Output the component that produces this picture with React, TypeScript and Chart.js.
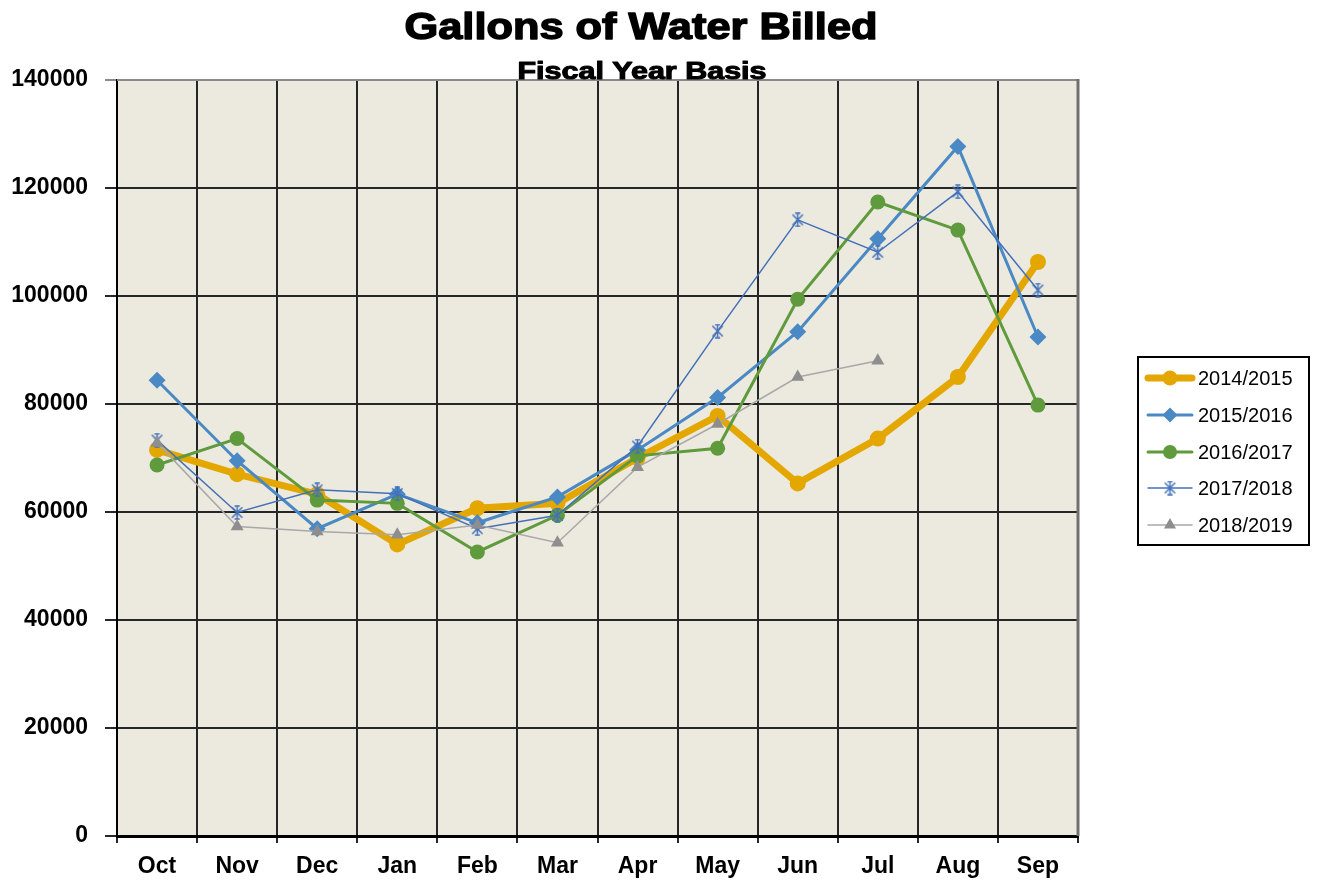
import React, { useEffect, useRef } from 'react';
import { Chart, registerables } from 'chart.js';

Chart.register(...registerables);

const months = ['Oct', 'Nov', 'Dec', 'Jan', 'Feb', 'Mar', 'Apr', 'May', 'Jun', 'Jul', 'Aug', 'Sep'];
const seriesNames = ['2014/2015', '2015/2016', '2016/2017', '2017/2018', '2018/2019'];
const fy2014 = [71500, 67000, 63300, 54000, 60700, 61600, 70000, 77800, 65300, 73600, 85000, 106300];
const fy2015 = [84400, 69500, 56900, 63300, 58000, 62800, 71500, 81200, 93400, 110600, 127700, 92400];
const fy2016 = [68700, 73600, 62200, 61600, 52600, 59400, 70400, 71800, 99400, 117400, 112200, 79800];
const fy2017 = [73300, 59900, 64100, 63400, 56900, 59400, 72200, 93500, 114100, 108100, 119300, 101100];
const fy2018 = [72800, 57300, 56400, 55800, 57600, 54300, 68300, 76300, 85000, 88000, null, null];
const yMin = 0;
const yMax = 140000;
const yStep = 20000;

const titleText = 'Gallons of Water Billed';
const subtitleText = 'Fiscal Year Basis';

const FONT = "'Liberation Sans', Arial, sans-serif";

const C_ORANGE = '#E4A700';
const C_BLUE = '#4A89C4';
const C_GREEN = '#5F9A3C';
const C_STAR = '#4470BA';
const C_GRAY_LINE = '#A8A8A8';
const C_GRAY_PT = '#8E8E8E';

function makeStar(color: string, size = 15, lw = 1.5) {
  const c = document.createElement('canvas');
  c.width = size;
  c.height = size;
  const g = c.getContext('2d')!;
  g.strokeStyle = color;
  g.lineWidth = lw;
  const m = size / 2;
  const r = size / 2 - 1;
  g.beginPath();
  g.moveTo(m - r * 0.8, m - r * 0.8);
  g.lineTo(m + r * 0.8, m + r * 0.8);
  g.moveTo(m + r * 0.8, m - r * 0.8);
  g.lineTo(m - r * 0.8, m + r * 0.8);
  g.moveTo(m, m - r);
  g.lineTo(m, m + r);
  g.moveTo(m - r * 0.4, m - r);
  g.lineTo(m + r * 0.4, m - r);
  g.moveTo(m - r * 0.4, m + r);
  g.lineTo(m + r * 0.4, m + r);
  g.stroke();
  return c;
}

function drawStretchedText(ctx: CanvasRenderingContext2D, text: string, font: string, cx: number, baseline: number, targetWidth: number, strokeW: number) {
  ctx.save();
  ctx.font = font;
  ctx.fillStyle = '#000';
  ctx.strokeStyle = '#000';
  ctx.textAlign = 'left';
  ctx.textBaseline = 'alphabetic';
  const w = ctx.measureText(text).width;
  const sx = targetWidth / w;
  ctx.translate(cx - targetWidth / 2, baseline);
  ctx.scale(sx, 1);
  ctx.fillText(text, 0, 0);
  ctx.lineWidth = strokeW;
  ctx.lineJoin = 'round';
  ctx.strokeText(text, 0, 0);
  ctx.restore();
}

export default function App() {
  const ref = useRef<HTMLCanvasElement | null>(null);

  useEffect(() => {
    if (!ref.current) return;
    const starImg = makeStar(C_STAR);

    const legendItems = [
      { color: C_ORANGE, lw: 7, marker: 'circle', r: 7.5, fill: C_ORANGE },
      { color: C_BLUE, lw: 3, marker: 'diamond', r: 7.5, fill: C_BLUE },
      { color: C_GREEN, lw: 3, marker: 'circle', r: 7, fill: C_GREEN },
      { color: C_STAR, lw: 1.5, marker: 'star', r: 7, fill: C_STAR },
      { color: C_GRAY_LINE, lw: 1.5, marker: 'triangle', r: 7, fill: C_GRAY_PT },
    ];

    const decoPlugin = {
      id: 'deco',
      beforeDraw(chart: any) {
        const { ctx, chartArea: a } = chart;
        ctx.save();
        ctx.fillStyle = '#ffffff';
        ctx.fillRect(0, 0, chart.width, chart.height);
        ctx.fillStyle = '#ECEADF';
        ctx.fillRect(a.left, a.top, a.right - a.left, a.bottom - a.top);
        ctx.restore();
      },
      afterDraw(chart: any) {
        const { ctx, chartArea: a } = chart;
        ctx.save();
        ctx.strokeStyle = '#8A8A8A';
        ctx.lineWidth = 2;
        ctx.beginPath();
        ctx.moveTo(a.left, a.top);
        ctx.lineTo(a.right, a.top);
        ctx.stroke();
        ctx.strokeStyle = '#707070';
        ctx.lineWidth = 3;
        ctx.beginPath();
        ctx.moveTo(a.right, a.top - 1);
        ctx.lineTo(a.right, a.bottom);
        ctx.stroke();
        ctx.restore();

        drawStretchedText(ctx, titleText, `bold 36px ${FONT}`, 641, 39, 473, 1.4);
        drawStretchedText(ctx, subtitleText, `bold 23px ${FONT}`, 642, 79, 249, 1);

        const bx = 1138, by = 357, bw = 171, bh = 188;
        ctx.save();
        ctx.fillStyle = '#ffffff';
        ctx.fillRect(bx, by, bw, bh);
        ctx.strokeStyle = '#000';
        ctx.lineWidth = 2;
        ctx.strokeRect(bx, by, bw, bh);
        const rows = [378, 415, 452, 488, 525];
        legendItems.forEach((it, i) => {
          const y = rows[i];
          ctx.strokeStyle = it.color;
          ctx.lineWidth = it.lw;
          ctx.lineCap = 'round';
          ctx.beginPath();
          ctx.moveTo(1148, y);
          ctx.lineTo(1192, y);
          ctx.stroke();
          const cx = 1170;
          ctx.fillStyle = it.fill;
          if (it.marker === 'circle') {
            ctx.beginPath();
            ctx.arc(cx, y, it.r, 0, Math.PI * 2);
            ctx.fill();
          } else if (it.marker === 'diamond') {
            ctx.beginPath();
            ctx.moveTo(cx, y - it.r);
            ctx.lineTo(cx + it.r, y);
            ctx.lineTo(cx, y + it.r);
            ctx.lineTo(cx - it.r, y);
            ctx.closePath();
            ctx.fill();
          } else if (it.marker === 'triangle') {
            const r = it.r;
            ctx.beginPath();
            ctx.moveTo(cx, y - r);
            ctx.lineTo(cx + r * 0.866, y + r * 0.5);
            ctx.lineTo(cx - r * 0.866, y + r * 0.5);
            ctx.closePath();
            ctx.fill();
          } else if (it.marker === 'star') {
            ctx.drawImage(starImg, cx - starImg.width / 2, y - starImg.height / 2);
          }
          ctx.fillStyle = '#000';
          ctx.font = `20px ${FONT}`;
          ctx.textAlign = 'left';
          ctx.textBaseline = 'middle';
          ctx.fillText(seriesNames[i], 1198, y + 1);
        });
        ctx.restore();
      },
    };

    const tickFont = { family: FONT, size: 23, weight: 'bold' as const };

    const chart = new Chart(ref.current, {
      type: 'line',
      data: {
        labels: months,
        datasets: [
          {
            label: seriesNames[0], data: fy2014, borderColor: C_ORANGE, backgroundColor: C_ORANGE,
            borderWidth: 7, pointRadius: 8, pointStyle: 'circle', pointBorderWidth: 0, order: 5,
            pointBackgroundColor: C_ORANGE,
          },
          {
            label: seriesNames[1], data: fy2015, borderColor: C_BLUE, backgroundColor: C_BLUE,
            borderWidth: 3, pointRadius: 8.5, pointStyle: 'rectRot', pointBorderWidth: 0, order: 4,
            pointBackgroundColor: C_BLUE,
          },
          {
            label: seriesNames[2], data: fy2016, borderColor: C_GREEN, backgroundColor: C_GREEN,
            borderWidth: 3, pointRadius: 7.5, pointStyle: 'circle', pointBorderWidth: 0, order: 3,
            pointBackgroundColor: C_GREEN,
          },
          {
            label: seriesNames[3], data: fy2017, borderColor: C_STAR, backgroundColor: C_STAR,
            borderWidth: 1.5, pointRadius: 7, pointStyle: starImg as any, order: 2,
          },
          {
            label: seriesNames[4], data: fy2018 as any, borderColor: C_GRAY_LINE, backgroundColor: C_GRAY_PT,
            borderWidth: 1.5, pointRadius: 7.5, pointStyle: 'triangle', pointBorderWidth: 0, order: 1,
            pointBackgroundColor: C_GRAY_PT,
          },
        ],
      },
      options: {
        animation: false,
        responsive: true,
        maintainAspectRatio: false,
        layout: { padding: { top: 80, left: 0, right: 239, bottom: 0 } },
        elements: { line: { tension: 0 } },
        plugins: {
          legend: { display: false },
          title: { display: false },
          tooltip: { enabled: false },
        },
        scales: {
          x: {
            offset: true,
            grid: { offset: true, color: '#262626', lineWidth: 2, tickLength: 7 },
            border: { color: '#000', width: 3 },
            ticks: { color: '#000', font: tickFont, padding: 10, maxRotation: 0, autoSkip: false },
            afterFit: (s: any) => { s.height = 48; },
          },
          y: {
            min: yMin,
            max: yMax,
            grid: {
              color: (c: any) => (c.tick && c.tick.value === yMax ? '#8A8A8A' : '#262626'),
              lineWidth: 2,
              tickLength: 12,
            },
            border: { color: '#000', width: 2 },
            ticks: { stepSize: yStep, color: '#000', font: tickFont, padding: 17, callback: (v: any) => String(v) },
            afterFit: (s: any) => { s.width = 117; },
          },
        },
      },
      plugins: [decoPlugin],
    } as any);

    return () => chart.destroy();
  }, []);

  return (
    <div style={{ position: 'fixed', left: 0, top: 0, width: 1317, height: 884, background: '#fff' }}>
      <canvas ref={ref} style={{ display: 'block' }} />
    </div>
  );
}
